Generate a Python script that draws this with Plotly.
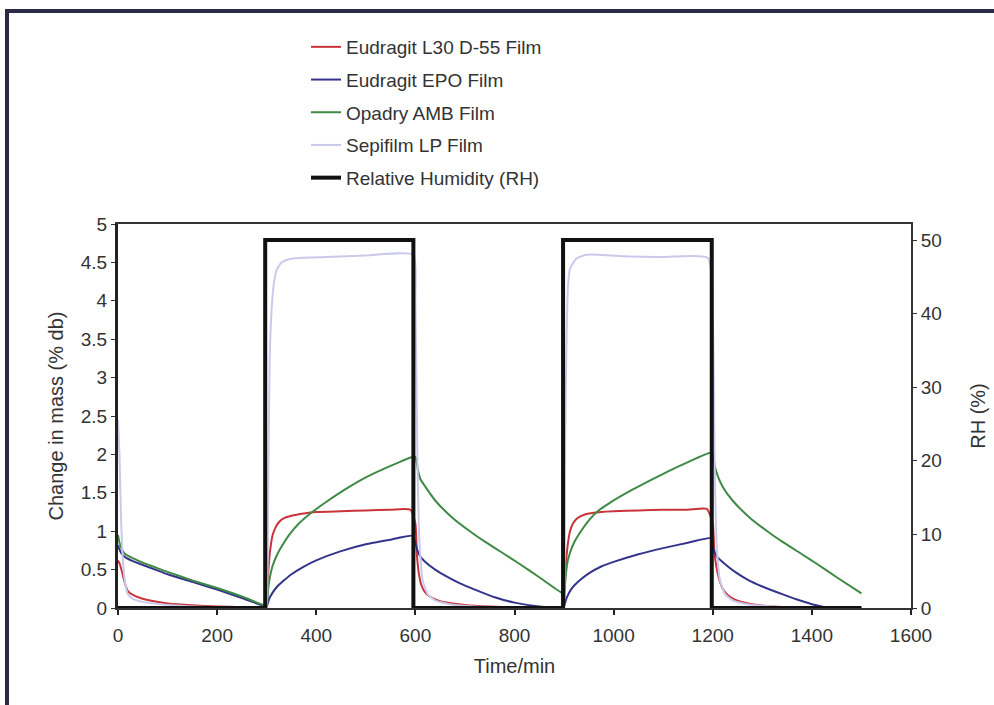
import plotly.graph_objects as go

# Time (min) and mass change (% db) for each film over two sorption/desorption cycles
t_l30 = [0, 3, 6, 10, 15, 20, 30, 45, 70, 100, 150, 200, 250, 297,
         300, 303, 307, 312, 318, 325, 335, 350, 375, 400, 450, 500, 550, 590,
         600, 603, 607, 612, 618, 625, 635, 650, 675, 700, 750, 800, 850, 898,
         900, 903, 907, 912, 918, 925, 935, 950, 975, 1000, 1050, 1100, 1150, 1188,
         1200, 1203, 1207, 1212, 1220, 1230, 1245, 1265, 1290, 1320, 1360, 1400]
m_l30 = [0.62, 0.58, 0.52, 0.42, 0.30, 0.22, 0.17, 0.13, 0.09, 0.06, 0.035, 0.02, 0.01, 0.0,
         0.05, 0.45, 0.75, 0.95, 1.05, 1.12, 1.17, 1.20, 1.23, 1.25, 1.26, 1.27, 1.28, 1.28,
         1.10, 0.70, 0.45, 0.30, 0.22, 0.17, 0.13, 0.09, 0.06, 0.04, 0.02, 0.01, 0.005, 0.0,
         0.05, 0.50, 0.80, 1.00, 1.10, 1.16, 1.20, 1.23, 1.25, 1.26, 1.27, 1.28, 1.28, 1.29,
         1.10, 0.75, 0.55, 0.40, 0.25, 0.17, 0.11, 0.07, 0.04, 0.02, 0.01, 0.0]

t_epo = [0, 3, 8, 15, 30, 50, 75, 100, 150, 200, 250, 297,
         300, 305, 312, 320, 335, 350, 375, 400, 450, 500, 550, 595,
         600, 604, 610, 620, 640, 660, 690, 720, 760, 800, 850, 898,
         900, 905, 915, 930, 950, 975, 1000, 1050, 1100, 1150, 1198,
         1200, 1204, 1210, 1225, 1245, 1270, 1300, 1340, 1370, 1400, 1430, 1500]
m_epo = [0.82, 0.76, 0.70, 0.66, 0.61, 0.56, 0.50, 0.44, 0.34, 0.24, 0.13, 0.02,
         0.02, 0.12, 0.20, 0.27, 0.36, 0.44, 0.54, 0.62, 0.74, 0.83, 0.89, 0.94,
         0.85, 0.75, 0.67, 0.60, 0.50, 0.42, 0.32, 0.24, 0.14, 0.07, 0.02, 0.0,
         0.02, 0.13, 0.25, 0.35, 0.45, 0.54, 0.60, 0.70, 0.78, 0.85, 0.91,
         0.82, 0.72, 0.66, 0.57, 0.47, 0.37, 0.28, 0.18, 0.11, 0.05, 0.01, 0.0]

t_amb = [0, 3, 8, 15, 30, 50, 75, 100, 150, 200, 250, 297,
         300, 303, 307, 312, 320, 330, 345, 365, 390, 420, 460, 500, 550, 595,
         600, 605, 610, 620, 640, 674, 710, 741, 780, 809, 850, 895,
         900, 903, 907, 912, 920, 930, 945, 966, 990, 1038, 1107, 1150, 1195,
         1200, 1204, 1210, 1220, 1240, 1274, 1310, 1341, 1380, 1409, 1450, 1500]
m_amb = [0.95, 0.85, 0.76, 0.70, 0.65, 0.59, 0.53, 0.47, 0.36, 0.26, 0.15, 0.03,
         0.03, 0.25, 0.42, 0.55, 0.68, 0.80, 0.95, 1.10, 1.24, 1.38, 1.55, 1.70, 1.85, 1.97,
         1.97, 1.80, 1.68, 1.58, 1.40, 1.18, 1.00, 0.86, 0.70, 0.58, 0.40, 0.20,
         0.20, 0.40, 0.60, 0.72, 0.85, 0.96, 1.10, 1.25, 1.36, 1.54, 1.77, 1.90, 2.02,
         2.00, 1.85, 1.72, 1.58, 1.40, 1.18, 1.00, 0.86, 0.70, 0.58, 0.40, 0.19]

t_lp = [0, 3, 6, 10, 15, 20, 30, 50, 100, 200, 297,
        300, 303, 306, 310, 315, 320, 330, 345, 370, 420, 500, 596,
        600, 604, 608, 615, 625, 640, 670, 720, 800, 898,
        900, 902, 905, 908, 912, 925, 945, 970, 1020, 1100, 1190,
        1200, 1204, 1208, 1215, 1225, 1240, 1270, 1320, 1400]
m_lp = [2.45, 2.00, 1.20, 0.60, 0.30, 0.18, 0.12, 0.08, 0.04, 0.01, 0.0,
        0.05, 1.50, 3.20, 3.90, 4.25, 4.40, 4.50, 4.54, 4.56, 4.57, 4.59, 4.60,
        4.00, 2.00, 0.90, 0.35, 0.18, 0.10, 0.05, 0.02, 0.01, 0.0,
        0.10, 2.00, 3.50, 4.20, 4.42, 4.55, 4.60, 4.60, 4.58, 4.57, 4.56,
        3.80, 1.80, 0.80, 0.35, 0.18, 0.10, 0.05, 0.02, 0.0]

# Relative humidity step programme
t_rh = [0, 297, 297, 596, 596, 898, 898, 1198, 1198, 1500]
rh = [0, 0, 50, 50, 0, 0, 50, 50, 0, 0]

series = [
    ("Eudragit L30 D-55 Film", t_l30, m_l30, "#c8343a"),
    ("Eudragit EPO Film", t_epo, m_epo, "#34348c"),
    ("Opadry AMB Film", t_amb, m_amb, "#3f8a44"),
    ("Sepifilm LP Film", t_lp, m_lp, "#c9c9ec"),
]

FONT = "Liberation Sans, Arial, sans-serif"
fig = go.Figure()

# RH first so the film curves sit on top of it
fig.add_trace(go.Scatter(x=t_rh, y=rh, mode="lines", name="Relative Humidity (RH)",
                         line=dict(color="#111111", width=4), yaxis="y2",
                         legendgroup="rh", legendrank=5))
for i, (name, tx, my, col) in enumerate(series):
    fig.add_trace(go.Scatter(x=tx, y=my, mode="lines", name=name,
                             line=dict(color=col, width=2, shape="spline", smoothing=0.5),
                             legendgroup=name, legendrank=i + 1))

# helpers for frame lines in paper coordinates
L, R, T, B = 118, 911, 224, 608
def px(x):
    return (x - L) / (R - L)
def py(y):
    return (B - y) / (B - T)

frame = dict(color="#2b2b44", width=4)
fig.add_shape(type="line", xref="paper", yref="paper", x0=px(7), x1=px(1000),
              y0=py(11), y1=py(11), line=frame)
fig.add_shape(type="line", xref="paper", yref="paper", x0=px(7), x1=px(7),
              y0=py(9), y1=py(710), line=frame)

TICKF = dict(size=19, color="#333333")
TITLEF = dict(size=20, color="#333333")

fig.update_layout(
    width=994, height=705,
    margin=dict(l=L, r=994 - R, t=T, b=705 - B, autoexpand=False),
    paper_bgcolor="white", plot_bgcolor="white",
    font=dict(family=FONT, size=19, color="#333333"),
    showlegend=True,
    legend=dict(x=px(306), y=py(28), xanchor="left", yanchor="top",
                font=dict(size=19, color="#333333"), tracegroupgap=5,
                bgcolor="rgba(0,0,0,0)", itemwidth=30),
    xaxis=dict(range=[0, 1600], tickvals=[0, 200, 400, 600, 800, 1000, 1200, 1400, 1600],
               showgrid=False, zeroline=False, showline=True, mirror=True,
               linecolor="#333333", linewidth=2, ticks="outside", ticklen=5,
               tickcolor="#222222", tickwidth=2, tickfont=TICKF, ticklabelstandoff=4,
               automargin=False,
               title=dict(text="Time/min", standoff=14, font=TITLEF)),
    yaxis=dict(range=[0, 5], tickvals=[0, 0.5, 1, 1.5, 2, 2.5, 3, 3.5, 4, 4.5, 5],
               ticktext=["0", "0.5", "1", "1.5", "2", "2.5", "3", "3.5", "4", "4.5", "5"],
               showgrid=False, zeroline=False, showline=True, linecolor="#222222",
               linewidth=3, ticks="outside", ticklen=4, tickcolor="#333333",
               tickfont=TICKF, automargin=False,
               title=dict(text="Change in mass (% db)", standoff=12, font=TITLEF)),
    yaxis2=dict(range=[0, 50 * (B - T) / (B - 240)], tickvals=[0, 10, 20, 30, 40, 50],
                overlaying="y", side="right", showgrid=False, zeroline=False,
                showline=True, linecolor="#333333", linewidth=2, ticks="outside",
                ticklen=4, tickcolor="#333333", tickfont=TICKF, automargin=False,
                title=dict(text="RH (%)", standoff=30, font=TITLEF)),
)

fig.write_html("out.html")
